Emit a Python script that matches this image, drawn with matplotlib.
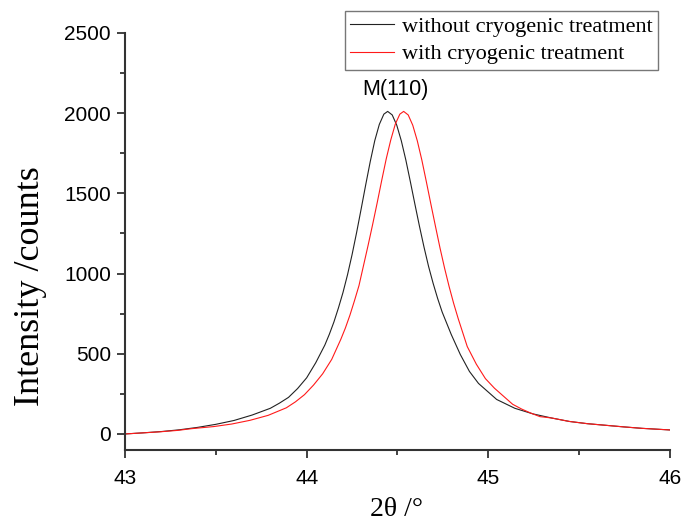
import matplotlib
matplotlib.use('Agg')
import matplotlib.pyplot as plt
from matplotlib.ticker import MultipleLocator

# values (2theta in degrees, intensity in counts)
x_without = [43.00, 43.10, 43.20, 43.30, 43.40, 43.50, 43.60, 43.70, 43.80, 43.85,
             43.90, 43.95, 44.00, 44.05, 44.10, 44.125, 44.15, 44.175, 44.20, 44.225,
             44.25, 44.275, 44.30, 44.325, 44.35, 44.375, 44.40, 44.425, 44.446, 44.471,
             44.496, 44.521, 44.546, 44.571, 44.596, 44.621, 44.646, 44.671, 44.696, 44.721,
             44.746, 44.796, 44.846, 44.896, 44.946, 45.046, 45.146, 45.246, 45.346, 45.446,
             45.546, 45.646, 45.746, 45.846, 46.00]
y_without = [0, 7, 15, 26, 41, 60, 84, 118, 160, 192,
             228, 283, 350, 444, 554, 622, 698, 786, 882, 993,
             1118, 1256, 1403, 1553, 1698, 1829, 1930, 1994, 2011, 1989,
             1925, 1828, 1708, 1572, 1432, 1295, 1165, 1045, 940, 845,
             760, 620, 495, 390, 315, 215, 160, 125, 100, 78,
             64, 54, 44, 35, 25]

x_with = [43.00, 43.088, 43.188, 43.288, 43.367, 43.488, 43.588, 43.688, 43.788, 43.888,
          43.938, 43.988, 44.038, 44.088, 44.138, 44.188, 44.213, 44.238, 44.263, 44.288,
          44.313, 44.338, 44.363, 44.388, 44.413, 44.438, 44.463, 44.488, 44.513, 44.534,
          44.559, 44.584, 44.609, 44.634, 44.659, 44.684, 44.709, 44.734, 44.759, 44.784,
          44.809, 44.834, 44.884, 44.934, 44.984, 45.034, 45.084, 45.134, 45.184, 45.234,
          45.284, 45.346, 45.446, 45.546, 45.646, 45.746, 45.846, 46.00]
y_with = [0, 6, 13, 22, 33, 46, 62, 85, 116, 163,
          200, 245, 305, 375, 465, 590, 660, 740, 830, 925,
          1050, 1175, 1305, 1440, 1580, 1715, 1833, 1932, 1994, 2011,
          1989, 1925, 1828, 1708, 1572, 1432, 1295, 1160, 1035, 920,
          815, 720, 545, 435, 345, 285, 235, 185, 155, 130,
          108, 100, 78, 64, 54, 44, 35, 25]

labels = ['without cryogenic treatment', 'with cryogenic treatment']
peak_label = 'M(110)'

fig = plt.figure(figsize=(6.96, 5.26), dpi=100)
ax = fig.add_axes([0.1796, 0.1445, 0.783, 0.7928])

ax.plot(x_without, y_without, color='#222222', lw=0.8, label=labels[0])
ax.plot(x_with, y_with, color='#ff1a1a', lw=0.8, label=labels[1])

ax.set_xlim(43, 46)
ax.set_ylim(-100, 2500)
ax.xaxis.set_major_locator(MultipleLocator(1))
ax.xaxis.set_minor_locator(MultipleLocator(0.5))
ax.yaxis.set_major_locator(MultipleLocator(500))
ax.yaxis.set_minor_locator(MultipleLocator(250))

for side in ['top', 'right']:
    ax.spines[side].set_visible(False)
for side in ['left', 'bottom']:
    ax.spines[side].set_linewidth(1.5)
    ax.spines[side].set_color('#333333')
ax.tick_params(which='major', direction='out', length=6, width=1.3, color='#333333',
               labelsize=15, pad=4)
ax.tick_params(axis='x', which='major', pad=8)
ax.tick_params(which='minor', direction='out', length=3.5, width=1.3, color='#333333')
for lab in ax.get_xticklabels() + ax.get_yticklabels():
    lab.set_family('Liberation Sans')

ax.set_xlabel('2θ /°', family='Liberation Serif', fontsize=20)
ax.xaxis.set_label_coords(0.499, -0.113)
ax.set_ylabel('Intensity /counts', family='Liberation Serif', fontsize=26)
ax.yaxis.set_label_coords(-0.173, 0.393)
ax.yaxis.label.set_va('center')

ax.text(44.49, 2080, peak_label, family='Liberation Sans', fontsize=15.5,
        ha='center', va='bottom')

leg = fig.legend(loc='upper right', bbox_to_anchor=(0.9454, 0.979), borderaxespad=0,
                 prop={'family': 'Liberation Serif', 'size': 16}, frameon=True,
                 fancybox=False, edgecolor='#555555', handlelength=1.95,
                 handletextpad=0.36, labelspacing=0.3, borderpad=0.25)
leg.get_frame().set_linewidth(1.0)

fig.savefig('out.png', dpi=100)
